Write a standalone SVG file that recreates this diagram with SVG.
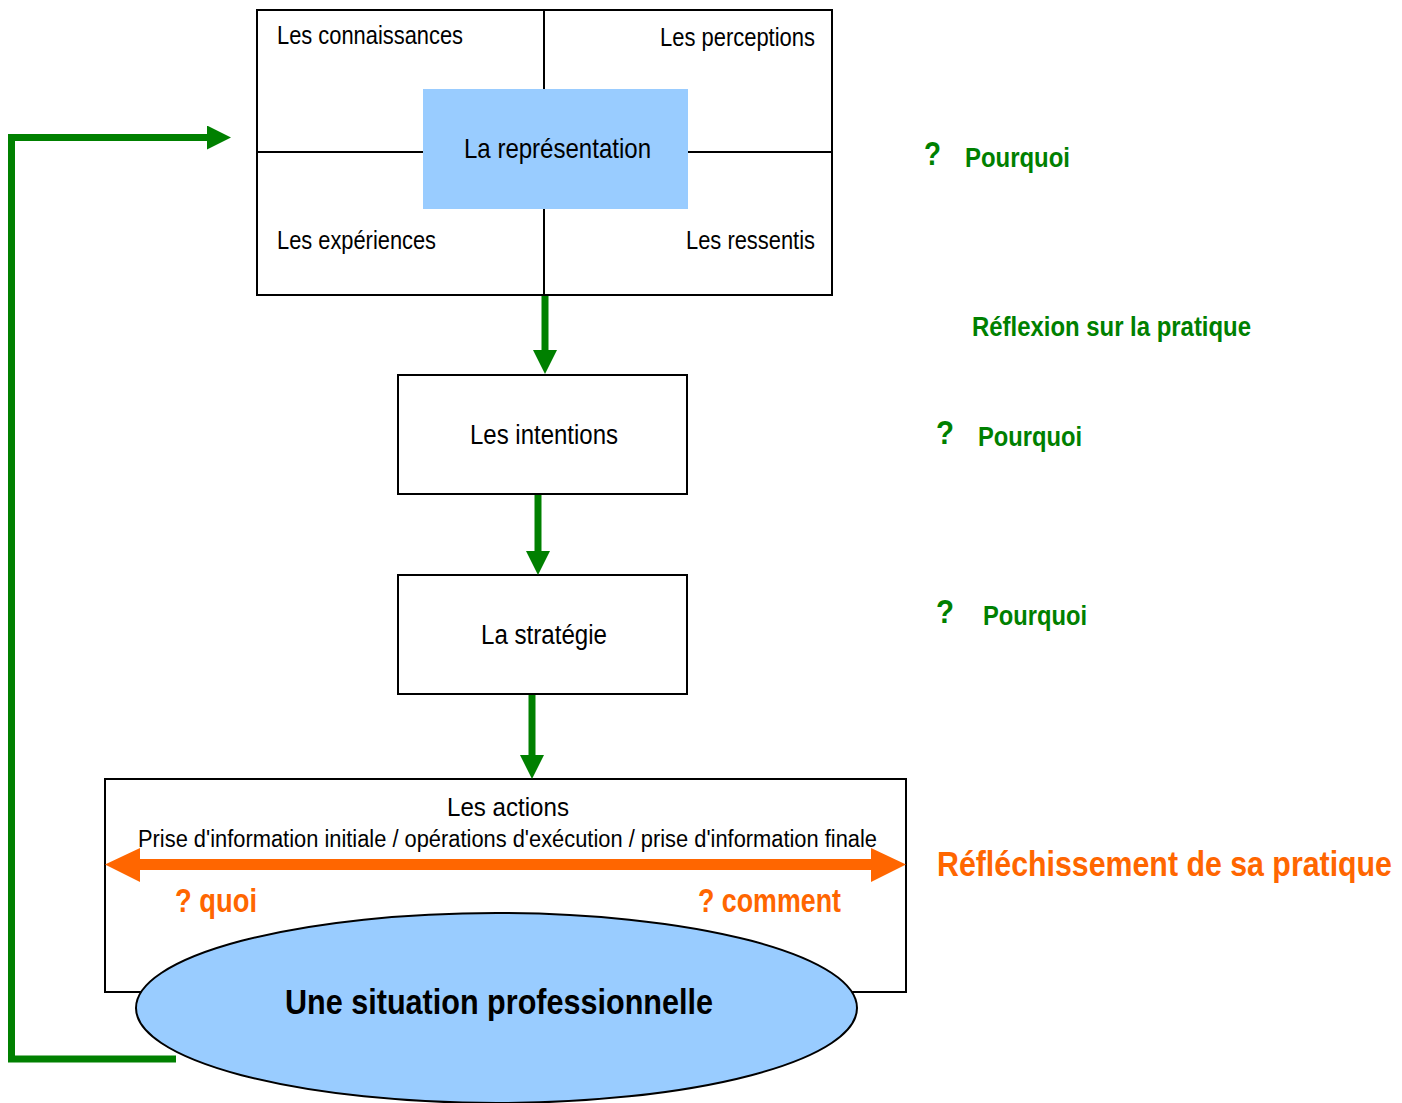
<svg xmlns="http://www.w3.org/2000/svg" width="1402" height="1103" viewBox="0 0 1402 1103">
<style>
text{font-family:"Liberation Sans Narrow","Arial Narrow","Liberation Sans",Arial,sans-serif;}
.lbl{fill:#000;font-size:25px;}
.box{fill:#fff;stroke:#000;stroke-width:2;}
.blue{fill:#99CCFF;}
.green{fill:#008000;font-weight:bold;}
.orange{fill:#FF6600;font-weight:bold;}
.q{font-family:"Liberation Sans",Arial,sans-serif;font-size:34px;}
.conn{fill:none;stroke:#008000;stroke-width:7;marker-end:url(#ga);}
</style>
<defs>
<marker id="ga" markerUnits="userSpaceOnUse" markerWidth="24" markerHeight="24" refX="0" refY="12" orient="auto" viewBox="0 0 24 24">
<path d="M0,0 L24,12 L0,24 z" fill="#008000"/>
</marker>
</defs>
<rect width="1402" height="1103" fill="#fff"/>

<g id="representation">
<rect class="box" x="257" y="10" width="575" height="285"/>
<line x1="544" y1="10" x2="544" y2="295" stroke="#000" stroke-width="2"/>
<line x1="257" y1="152" x2="832" y2="152" stroke="#000" stroke-width="2"/>
<rect class="blue" x="423" y="89" width="265" height="120"/>
<text class="lbl" x="277" y="44" textLength="186" lengthAdjust="spacingAndGlyphs">Les connaissances</text>
<text class="lbl" x="660" y="46" textLength="155" lengthAdjust="spacingAndGlyphs">Les perceptions</text>
<text class="lbl" x="277" y="249" textLength="159" lengthAdjust="spacingAndGlyphs">Les expériences</text>
<text class="lbl" x="686" y="249" textLength="129" lengthAdjust="spacingAndGlyphs">Les ressentis</text>
<text class="lbl" x="464" y="158" style="font-size:28px" textLength="187" lengthAdjust="spacingAndGlyphs">La représentation</text>
</g>

<g id="intentions">
<rect class="box" x="398" y="375" width="289" height="119"/>
<text class="lbl" x="470" y="444" style="font-size:27px" textLength="148" lengthAdjust="spacingAndGlyphs">Les intentions</text>
</g>

<g id="strategie">
<rect class="box" x="398" y="575" width="289" height="119"/>
<text class="lbl" x="481" y="644" style="font-size:27px" textLength="126" lengthAdjust="spacingAndGlyphs">La stratégie</text>
</g>

<g id="actions">
<rect class="box" x="105" y="779" width="801" height="213"/>
<text class="lbl" x="447" y="816" style="font-size:26px" textLength="122" lengthAdjust="spacingAndGlyphs">Les actions</text>
<text class="lbl" x="138" y="847" style="font-size:23px" textLength="739" lengthAdjust="spacingAndGlyphs">Prise d'information initiale / opérations d'exécution / prise d'information finale</text>
<polygon fill="#FF6600" points="105,864.5 140,848 140,859 871,859 871,848 906,864.5 871,882 871,870 140,870 140,882"/>
<text class="orange" x="175" y="912" style="font-size:34px" textLength="82" lengthAdjust="spacingAndGlyphs">? quoi</text>
<text class="orange" x="698" y="912" style="font-size:34px" textLength="143" lengthAdjust="spacingAndGlyphs">? comment</text>
</g>

<g id="situation">
<ellipse cx="496.5" cy="1008" rx="360.5" ry="95" fill="#99CCFF" stroke="#000" stroke-width="2"/>
<text x="285" y="1014" style="font-size:35px;font-weight:bold" fill="#000" textLength="428" lengthAdjust="spacingAndGlyphs">Une situation professionnelle</text>
</g>

<g id="connectors">
<path class="conn" d="M545,296 L545,350"/>
<path class="conn" d="M538,495 L538,551"/>
<path class="conn" d="M532,695 L532,755"/>
<path class="conn" d="M176,1059 L11.5,1059 L11.5,137.5 L207,137.5"/>
</g>

<g id="side-labels">
<text class="green" style="font-size:27px"><tspan class="q" x="924" y="165" textLength="17" lengthAdjust="spacingAndGlyphs">?</tspan><tspan x="965" y="167" textLength="105" lengthAdjust="spacingAndGlyphs">Pourquoi</tspan></text>
<text class="green" x="972" y="336" style="font-size:27px" textLength="279" lengthAdjust="spacingAndGlyphs">Réflexion sur la pratique</text>
<text class="green" style="font-size:27px"><tspan class="q" x="936" y="444" textLength="18" lengthAdjust="spacingAndGlyphs">?</tspan><tspan x="978" y="446" textLength="104" lengthAdjust="spacingAndGlyphs">Pourquoi</tspan></text>
<text class="green" style="font-size:27px"><tspan class="q" x="936" y="623" textLength="18" lengthAdjust="spacingAndGlyphs">?</tspan><tspan x="983" y="625" textLength="104" lengthAdjust="spacingAndGlyphs">Pourquoi</tspan></text>
<text class="orange" x="937" y="876" style="font-size:35px" textLength="455" lengthAdjust="spacingAndGlyphs">Réfléchissement de sa pratique</text>
</g>
</svg>
